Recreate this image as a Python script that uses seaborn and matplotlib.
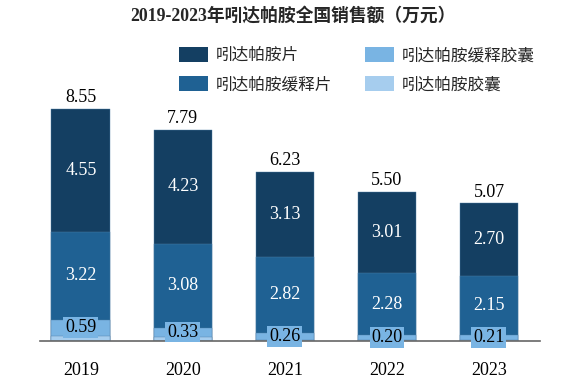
import matplotlib
matplotlib.use("Agg")
import matplotlib.pyplot as plt
import seaborn as sns
import numpy as np
import pandas as pd
from matplotlib.patches import Patch

years = ["2019", "2020", "2021", "2022", "2023"]
totals = [8.55, 7.79, 6.23, 5.50, 5.07]
tablet = [4.55, 4.23, 3.13, 3.01, 2.70]          # 吲达帕胺片
sr_tablet = [3.22, 3.08, 2.82, 2.28, 2.15]       # 吲达帕胺缓释片
sr_capsule = [0.59, 0.33, 0.26, 0.20, 0.21]      # 吲达帕胺缓释胶囊
capsule = [0.19, 0.15, 0.02, 0.01, 0.01]         # 吲达帕胺胶囊

names = ["吲达帕胺片", "吲达帕胺缓释片", "吲达帕胺缓释胶囊", "吲达帕胺胶囊"]
colors = ["#143f62", "#1f6193", "#79b4e3", "#a6cdee"]

sns.set_theme(style="white")
plt.rcParams['font.family'] = ['Liberation Serif', 'Noto Sans CJK SC', 'DejaVu Sans']

fig = plt.figure(figsize=(5.86, 3.85), dpi=100)
ax = fig.add_axes([40/586, 44.3/385, 500/586, 271/385])

cap = np.array(capsule)
srcap = cap + np.array(sr_capsule)
srtab = srcap + np.array(sr_tablet)
tab = srtab + np.array(tablet)

df = pd.DataFrame({"year": years, "tab": tab, "srtab": srtab, "srcap": srcap, "cap": cap})
for col, c in zip(["tab", "srtab", "srcap", "cap"], colors):
    sns.barplot(data=df, x="year", y=col, color=c, width=0.575, ax=ax,
                edgecolor="#4f7ea6", linewidth=0.3, saturation=1)

ax.set_xlim(-0.4, 4.5)
ax.set_ylim(0, 10)
for s in ["top", "left", "right"]:
    ax.spines[s].set_visible(False)
ax.spines["bottom"].set_color("#666666")
ax.spines["bottom"].set_linewidth(1.2)
ax.set_yticks([])
ax.set_xlabel("")
ax.set_ylabel("")
ax.tick_params(axis="x", labelsize=13, length=0, pad=15, colors="black")

fs = 13
for i in range(len(years)):
    ax.text(i, tab[i] + 0.1, f"{totals[i]:.2f}", ha="center", va="bottom", fontsize=fs, color="black")
    ax.text(i, srtab[i] + tablet[i] / 2, f"{tablet[i]:.2f}", ha="center", va="center", fontsize=fs, color="white")
    ax.text(i, srcap[i] + sr_tablet[i] / 2, f"{sr_tablet[i]:.2f}", ha="center", va="center", fontsize=fs, color="white")
    ax.text(i, cap[i] + sr_capsule[i] / 2, f"{sr_capsule[i]:.2f}", ha="center", va="center", fontsize=fs,
            color="black", bbox=dict(boxstyle="square,pad=0.1", facecolor=colors[2], edgecolor="none"))

fig.text(0.5, 0.958, "2019-2023年吲达帕胺全国销售额（万元）", ha="center", va="center",
         fontsize=12.8, fontweight="bold", family=['Liberation Serif', 'Noto Sans CJK SC'])

handles = [Patch(facecolor=c, edgecolor="none") for c in colors]
col_x = [179/586, 365/586]
for k in range(2):
    idx = [k * 2, k * 2 + 1]
    leg = fig.legend([handles[i] for i in idx], [names[i] for i in idx], ncol=1,
                     loc="upper left", bbox_to_anchor=(col_x[k], 1 - 47/385), frameon=False,
                     fontsize=12, handlelength=1.75, handleheight=1.0, borderpad=0, borderaxespad=0,
                     labelspacing=0.72, handletextpad=0.45)
    for t in leg.get_texts():
        t.set_family(['Noto Sans CJK SC', 'DejaVu Sans'])

fig.savefig("out.png", dpi=100)
